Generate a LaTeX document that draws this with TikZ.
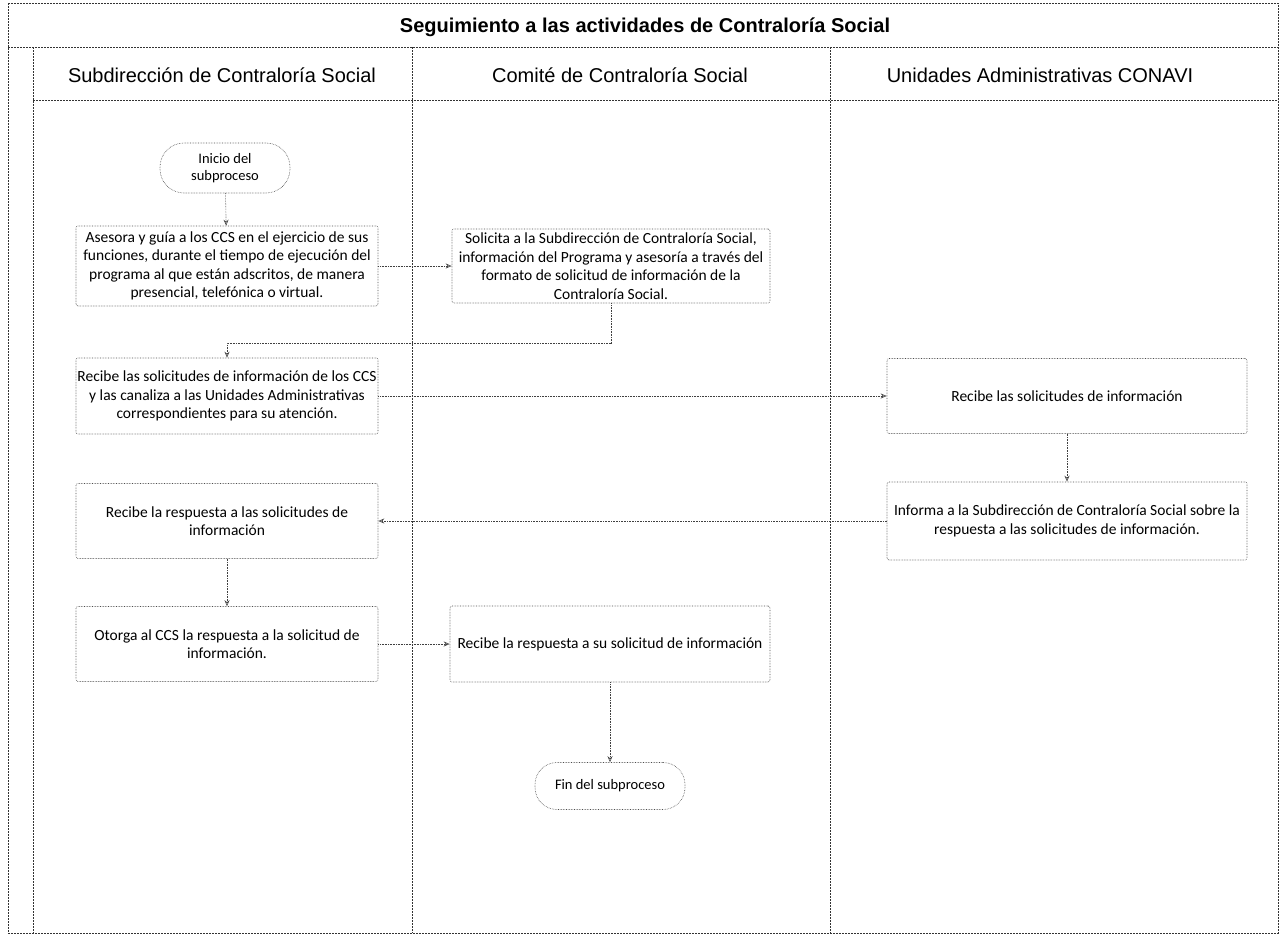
\documentclass[tikz,border=0pt]{standalone}
\usepackage{fontspec}
\setmainfont{Carlito}
\newfontfamily\arialf{Liberation Sans}
\usetikzlibrary{arrows.meta}
\begin{document}
\begin{tikzpicture}[x=1pt,y=-1pt,
 box/.style={draw=black!70, densely dotted, line width=0.6pt, align=center,
   font=\fontsize{15.5}{18.5}\selectfont, inner sep=0pt, rounded corners=2pt},
 term/.style={draw=black!70, densely dotted, line width=0.6pt, align=center,
   font=\fontsize{14.5}{17}\selectfont, inner sep=0pt},
 conn/.style={draw=black!75, densely dotted, line width=0.6pt,
   -{Stealth[length=6pt,width=5pt,open]}},
 lane/.style={draw=black!80, dash pattern=on 2pt off 1pt, line width=0.7pt},
 hdr/.style={font=\arialf\fontsize{20}{24}\selectfont}
]
\useasboundingbox (0,0) rectangle (1283,937);

% frame and lanes
\draw[lane] (8,3) rectangle (1278,933);
\draw[lane] (8,47) -- (1278,47);
\draw[lane] (33,100) -- (1278,100);
\draw[lane] (33,47) -- (33,933);
\draw[lane] (412,47) -- (412,933);
\draw[lane] (830,47) -- (830,933);

\node[font=\arialf\bfseries\fontsize{20}{24}\selectfont] (title) at (645,27) {Seguimiento a las actividades de Contraloría Social};
\node[hdr] (h1) at (222,75) {Subdirección de Contraloría Social};
\node[hdr] (h2) at (620,75) {Comité de Contraloría Social};
\node[hdr] (h3) at (1040,75) {Unidades Administrativas CONAVI};

% nodes
\node[term, minimum width=130pt, minimum height=50pt, rounded corners=24pt] (ini) at (225,168) {Inicio del\\subproceso};
\node[box, minimum width=302pt, minimum height=80pt] (ase) at (227,266) {Asesora y guía a los CCS en el ejercicio de sus\\funciones, durante el tiempo de ejecución del\\programa al que están adscritos, de manera\\presencial, telefónica o virtual.};
\node[box, minimum width=318pt, minimum height=74pt] (sol) at (611,266) {Solicita a la Subdirección de Contraloría Social,\\información del Programa y asesoría a través del\\formato de solicitud de información de la\\Contraloría Social.};
\node[box, minimum width=302pt, minimum height=76pt] (rcs) at (227,396) {Recibe las solicitudes de información de los CCS\\y las canaliza a las Unidades Administrativas\\correspondientes para su atención.};
\node[box, minimum width=360pt, minimum height=75pt] (urs) at (1067,396) {Recibe las solicitudes de información};
\node[box, minimum width=360pt, minimum height=78pt] (inf) at (1067,521) {Informa a la Subdirección de Contraloría Social sobre la\\respuesta a las solicitudes de información.};
\node[box, minimum width=302pt, minimum height=75pt] (rre) at (227,521) {Recibe la respuesta a las solicitudes de\\información};
\node[box, minimum width=302pt, minimum height=75pt] (oto) at (227,644) {Otorga al CCS la respuesta a la solicitud de\\información.};
\node[box, minimum width=320pt, minimum height=76pt] (cre) at (610,644) {Recibe la respuesta a su solicitud de información};
\node[term, minimum width=150pt, minimum height=47pt, rounded corners=22pt] (fin) at (610,786) {Fin del subproceso};

% connectors
\draw[conn] (ini) -- (ase);
\draw[conn] (ase) -- (sol);
\draw[conn] (sol.south) -- ++(0,40) -| (rcs.north);
\draw[conn] (rcs) -- (urs);
\draw[conn] (urs) -- (inf);
\draw[conn] (inf) -- (rre);
\draw[conn] (rre) -- (oto);
\draw[conn] (oto) -- (cre);
\draw[conn] (cre) -- (fin);
\end{tikzpicture}
\end{document}
